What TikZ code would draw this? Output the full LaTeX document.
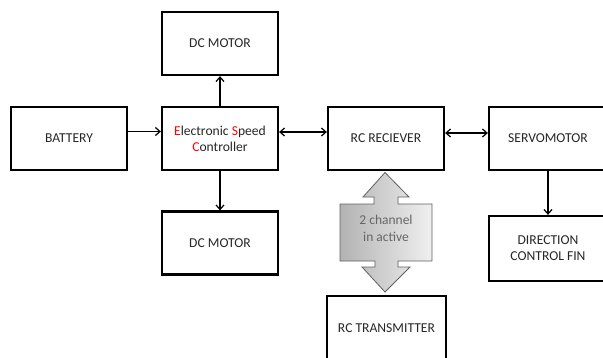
\documentclass[tikz,border=0pt]{standalone}
\usepackage{fontspec}
\setmainfont{Carlito}
\usetikzlibrary{arrows.meta,shadings}
\definecolor{txt}{HTML}{262626}
\begin{document}
\begin{tikzpicture}[x=1pt,y=-1pt,
  blk/.style={draw=black,line width=2.3pt,minimum width=116pt,minimum height=63pt,
    inner sep=0pt,align=center,font=\fontsize{13.6}{16}\selectfont,text=txt},
  conn/.style={line width=1.2pt,-{Straight Barb[length=4.5pt,width=8pt,line width=1.2pt]}},
  bconn/.style={line width=1.2pt,{Straight Barb[length=4.5pt,width=8pt,line width=1.2pt]}-{Straight Barb[length=4.5pt,width=8pt,line width=1.2pt]}}]
\useasboundingbox (0,0) rectangle (603,357);
\node[blk] (bat) at (69,138.5) {BATTERY};
\node[blk] (esc) at (220,138.5) {\textcolor{red}{E}lectronic \textcolor{red}{S}peed\\\textcolor{red}{C}ontroller};
\node[blk] (dc1) at (220,43.5) {DC MOTOR};
\node[blk] (dc2) at (220,243) {DC MOTOR};
\node[blk] (rx) at (386,138.5) {RC RECIEVER};
\node[blk,minimum width=122pt] (servo) at (550,138.5) {\hspace*{-4pt}SERVOMOTOR};
\node[blk,minimum width=122pt,minimum height=65pt] (fin) at (550,248.5) {\hspace*{-4pt}DIRECTION\\\hspace*{-4pt}CONTROL FIN};
\node[blk,minimum width=119pt,minimum height=64pt] (tx) at (386.5,328) {RC TRANSMITTER};
% connectors
\draw[conn] (bat.east |- 0,131.5) -- (esc.west |- 0,131.5);
\draw[conn] (esc.north) -- (dc1.south);
\draw[conn] (esc.south) -- (dc2.north);
\draw[bconn] (esc.east |- 0,132) -- (rx.west |- 0,132);
\draw[bconn] (rx.east |- 0,133) -- (servo.west |- 0,133);
\draw[conn] (servo.south -| 548,0) -- (fin.north -| 548,0);
% big double arrow
\path[draw=gray!75!black,line width=0.8pt,left color=gray!60,right color=gray!12,line join=miter]
  (385,172.5) -- (409,197) -- (398,197) -- (398,204) -- (432,204) -- (432,261)
  -- (398,261) -- (398,267) -- (410,267) -- (385,292) -- (362,267) -- (375,267)
  -- (375,261) -- (340,261) -- (340,204) -- (374,204) -- (374,197) -- (363,197) -- cycle;
\node[align=center,text=gray!80!black,font=\fontsize{13.5}{17}\selectfont] (lbl) at (386,228.5) {2 channel\\in active};
\end{tikzpicture}
\end{document}
